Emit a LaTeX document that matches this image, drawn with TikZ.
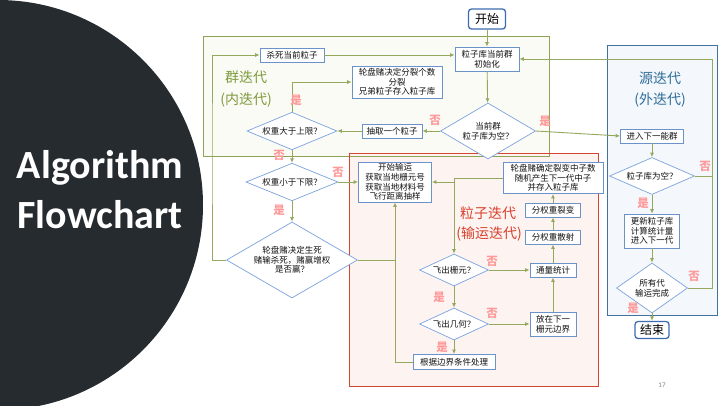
\documentclass[tikz,border=0pt]{standalone}
\usepackage{fontspec}
\setmainfont{Carlito}
\newfontfamily\cjk{Noto Sans CJK SC}
\usetikzlibrary{shapes.geometric,arrows.meta}

\definecolor{darkbg}{HTML}{262B30}
\definecolor{grpline}{HTML}{8EA356}
\definecolor{grpfill}{HTML}{FAFBF5}
\definecolor{grptext}{HTML}{7E9A3C}
\definecolor{srcline}{HTML}{41719C}
\definecolor{srcfill}{HTML}{F4F7FB}
\definecolor{srctext}{HTML}{2F6E9A}
\definecolor{ptcline}{HTML}{D6452F}
\definecolor{ptcfill}{HTML}{FDF4F2}
\definecolor{ptctext}{HTML}{D8402C}
\definecolor{boxline}{HTML}{6C93C9}
\definecolor{dialine}{HTML}{7BA3DC}
\definecolor{termline}{HTML}{3D6CB0}
\definecolor{flowcol}{HTML}{94A85E}
\definecolor{yesno}{HTML}{FF9A9A}
\definecolor{inktext}{HTML}{111111}

\tikzset{
  box/.style={draw=boxline, fill=white, line width=0.8pt, inner sep=1pt,
    align=center, text=inktext, font=\cjk\fontsize{8.5}{9.6}\selectfont},
  dia/.style={diamond, draw=dialine, fill=white, line width=0.7pt, inner sep=0pt,
    aspect=2, align=center, text=inktext, font=\cjk\fontsize{8.5}{9.6}\selectfont},
  term/.style={draw=termline, fill=white, line width=1.3pt, rounded corners=3pt,
    inner sep=1pt, text=black, font=\cjk\fontsize{12}{14}\selectfont},
  flow/.style={draw=flowcol, line width=0.9pt, -{Latex[length=4.5pt,width=4pt]}},
  plainline/.style={draw=flowcol, line width=0.9pt},
  yn/.style={text=yesno, font=\cjk\bfseries\fontsize{11.5}{12}\selectfont},
  region/.style={font=\cjk\fontsize{14}{16}\selectfont, align=center}
}

\begin{document}
\begin{tikzpicture}[x=1pt,y=-1pt]
\useasboundingbox (0,0) rectangle (720,405);
\fill[white] (0,0) rectangle (720,405);

% dark half disc with the title
\begin{scope}
  \clip (0,0) rectangle (720,405);
  \fill[darkbg] (-2,205) circle (205pt);
\end{scope}
\node[anchor=base, text=white, font=\bfseries\fontsize{40}{48}\selectfont] (t1) at (100,178) {Algorithm};
\node[anchor=base, text=white, font=\bfseries\fontsize{40}{48}\selectfont] (t2) at (100,228) {Flowchart};

% iteration regions
\fill[grpfill] (203,36) rectangle (549,156);
\filldraw[fill=ptcfill, draw=ptcline, line width=0.9pt] (349,153) rectangle (598,386);
\draw[grpline, line width=0.9pt] (203,36) rectangle (549,156);
\draw[ptcline, line width=0.9pt] (349,153) rectangle (598,386);
\filldraw[fill=srcfill, draw=srcline, line width=0.9pt] (607,45) rectangle (717,315);

\node[region, text=grptext] (glab1) at (246,77) {群迭代};
\node[region, text=grptext] (glab2) at (246,100) {(内迭代)};
\node[region, text=srctext] (slab1) at (660,78) {源迭代};
\node[region, text=srctext] (slab2) at (660,100) {(外迭代)};
\node[region, text=ptctext] (plab1) at (488,213) {粒子迭代};
\node[region, text=ptctext] (plab2) at (489,234) {(输运迭代)};

% group iteration
\node[term, minimum width=37, minimum height=20] (start) at (487,19) {开始};
\node[box, minimum width=64, minimum height=24] (init) at (487,59) {粒子库当前群\\初始化};
\node[box, minimum width=64, minimum height=14] (kill) at (292,55) {杀死当前粒子};
\node[box, minimum width=90, minimum height=32] (split) at (397,82) {轮盘赌决定分裂个数\\分裂\\兄弟粒子存入粒子库};
\node[dia, minimum width=95, minimum height=56] (empty1) at (488,131) {当前群\\粒子库为空？};
\node[box, minimum width=60, minimum height=14] (pick) at (392,131) {抽取一个粒子};
\node[dia, minimum width=90, minimum height=35] (upper) at (292,131) {权重大于上限？};
\node[dia, minimum width=92, minimum height=35] (lower) at (292,182) {权重小于下限？};
\node[dia, minimum width=131, minimum height=76] (rr) at (292,260) {轮盘赌决定生死\\赌输杀死，赌赢增权\\是否赢？};

% particle transport
\node[box, minimum width=73, minimum height=40] (trans) at (395,182) {开始输运\\获取当地栅元号\\获取当地材料号\\飞行距离抽样};
\node[box, minimum width=100, minimum height=31] (fis) at (553,178) {轮盘赌确定裂变中子数\\随机产生下一代中子\\并存入粒子库};
\node[box, minimum width=55, minimum height=14] (fw) at (553,210) {分权重裂变};
\node[box, minimum width=55, minimum height=14] (sw) at (553,237) {分权重散射};
\node[dia, minimum width=69, minimum height=32] (cell) at (454,270) {飞出栅元？};
\node[box, minimum width=46, minimum height=14] (tally) at (553,270) {通量统计};
\node[dia, minimum width=69, minimum height=32] (geom) at (454,324) {飞出几何？};
\node[box, minimum width=46, minimum height=24] (nextc) at (553,324) {放在下一\\栅元边界};
\node[box, minimum width=82, minimum height=15] (bound) at (454,362) {根据边界条件处理};

% source iteration
\node[box, minimum width=63, minimum height=14] (nextg) at (652,136) {进入下一能群};
\node[dia, minimum width=85, minimum height=37] (empty2) at (652,176) {粒子库为空？};
\node[box, minimum width=55, minimum height=34] (upd) at (652,231) {更新粒子库\\计算统计量\\进入下一代};
\node[dia, minimum width=71, minimum height=50] (alldone) at (652,288) {所有代\\输运完成};
\node[term, minimum width=34, minimum height=17] (finish) at (652,330) {结束};

% junction points
\coordinate (lbus) at (212,150);
\coordinate (rbus) at (712,176);
\coordinate (jn) at (454,182);

% connectors: group iteration
\draw[flow] (start) -- (init);
\draw[flow] (init) -- (empty1);
\draw[flow] (empty1) -- (pick);
\draw[flow] (pick) -- (upper);
\draw[flow] (upper.north) |- (split.west);
\draw[flow] (upper) -- (lower);
\draw[flow] (lower) -- (trans);
\draw[flow] (lower) -- (rr);
\draw[flow] (rr.west) -| (lbus) |- (kill.west);
\draw[flow] (kill.east) -- (kill.east -| init.west);

% connectors: particle transport
\draw[flow] (bound.west) -| (trans.south);
\draw[plainline] (rr.east) -- (rr.east -| trans.south);
\draw[flow] (fis.west) -| (cell.north);
\draw[flow] (jn) -- (trans.east);
\draw[flow] (cell) -- (tally);
\draw[flow] (cell) -- (geom);
\draw[flow] (geom) -- (nextc);
\draw[flow] (geom) -- (bound);
\draw[flow] (nextc) -- (tally);
\draw[flow] (tally) -- (sw);
\draw[flow] (sw) -- (fw);
\draw[flow] (fw) -- (fis);

% connectors: source iteration
\draw[flow] (empty1.east) -- (nextg.west);
\draw[flow] (nextg) -- (empty2);
\draw[flow] (empty2) -- (upd);
\draw[flow] (upd) -- (alldone);
\draw[flow] (alldone) -- (finish);
\draw[plainline] (alldone.east) -| (rbus);
\draw[flow] (empty2.east) -- (rbus) |- (init.east);

% branch labels
\node[yn] (n1) at (435,120) {否};
\node[yn] (y1) at (545,121) {是};
\node[yn] (y2) at (296,100) {是};
\node[yn] (n2) at (279,155) {否};
\node[yn] (n3) at (338,172) {否};
\node[yn] (y3) at (279,210) {是};
\node[yn] (n4) at (492,261) {否};
\node[yn] (y4) at (439,297) {是};
\node[yn] (n5) at (492,313) {否};
\node[yn] (y5) at (442,347) {是};
\node[yn] (n6) at (705,166) {否};
\node[yn] (y6) at (643,203) {是};
\node[yn] (n7) at (694,276) {否};
\node[yn] (y7) at (633,308) {是};

% page number
\node[text=gray, font=\fontsize{7}{8}\selectfont] (pg) at (662,385) {17};
\end{tikzpicture}
\end{document}
